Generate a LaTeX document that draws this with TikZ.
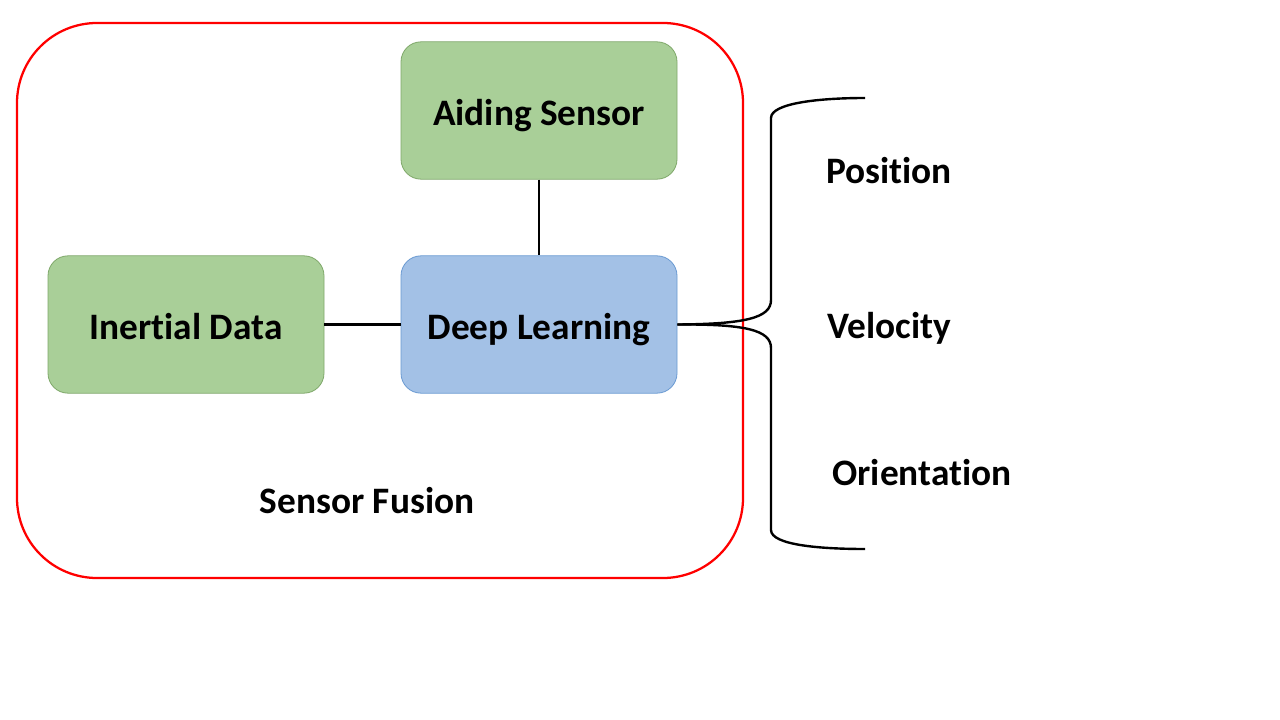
\documentclass[tikz,border=0pt]{standalone}
\usepackage{fontspec}
\setmainfont{Carlito}[Ligatures=NoCommon]
\definecolor{gfill}{HTML}{A9CF98}
\definecolor{gdraw}{HTML}{7FA86A}
\definecolor{bfill}{HTML}{A3C1E6}
\definecolor{bdraw}{HTML}{6A9AD2}
\begin{document}
\begin{tikzpicture}[x=0.75pt,y=-0.75pt,
  lbl/.style={font=\fontsize{28}{32}\selectfont\bfseries, text=black},
  gbox/.style={draw=gdraw, fill=gfill, line width=0.6pt, rounded corners=15pt, minimum width=207pt, minimum height=103pt, inner sep=0pt},
  bbox/.style={draw=bdraw, fill=bfill, line width=0.6pt, rounded corners=15pt, minimum width=207pt, minimum height=103pt, inner sep=0pt},
  conn/.style={line width=1.8pt, black}]
\useasboundingbox (0,0) rectangle (1280,720);
\fill[white] (0,0) rectangle (1280,720);
\draw[red, line width=1.7pt, rounded corners=60pt] (17,23) rectangle (743,578);
\node[gbox] (aid) at (539,110.5) {};
\node[gbox] (ine) at (186,324.5) {};
\node[bbox] (dl) at (539,324.5) {};
\node[lbl, anchor=base] (aidt) at (539,125.5) {Aiding Sensor};
\node[lbl, anchor=base] (inet) at (186,339.5) {Inertial Data};
\node[lbl, anchor=base] (dlt) at (539,339.5) {Deep Learning};
\draw[conn] (ine.east) -- (dl.west);
\draw[conn] (aid.south) -- (dl.north);
\coordinate (bt) at (865,98);
\coordinate (bb) at (865,549);
\draw[conn] (dl.east) .. controls (745,324) and (771,318) .. (771,300) -- (771,118) .. controls (771,103) and (820,98) .. (bt);
\draw[conn] (dl.east) .. controls (745,324) and (771,330) .. (771,348) -- (771,530) .. controls (771,545) and (820,549) .. (bb);
\node[lbl, anchor=base] (pos) at (889,184) {Position};
\node[lbl, anchor=base] (vel) at (889,338) {Velocity};
\node[lbl, anchor=base] (ori) at (922,485) {Orientation};
\node[lbl, anchor=base] (sf) at (367,513) {Sensor Fusion};
\end{tikzpicture}
\end{document}
